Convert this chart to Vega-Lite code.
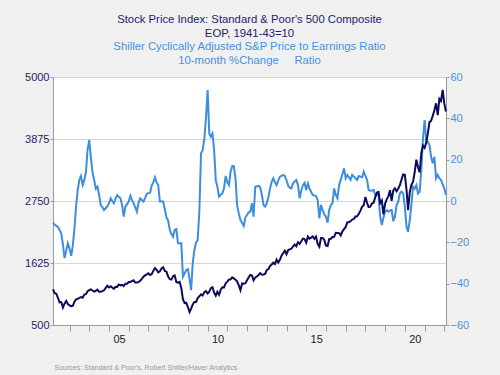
{
"$schema": "https://vega.github.io/schema/vega-lite/v6.json",
"width": 393, "height": 248,
"autosize": {"type": "none"},
"padding": {"left": 53, "top": 77, "right": 54, "bottom": 50},
"background": "#f0f0f0",
"config": {"view": {"fill": "white", "stroke": null}, "font": "Liberation Sans"},
"title": {
  "text": ["Stock Price Index: Standard & Poor's 500 Composite", "EOP, 1941-43=10"],
  "subtitle": ["Shiller Cyclically Adjusted S&P Price to Earnings Ratio", "10-month %Change\u00a0\u00a0\u00a0\u00a0\u00a0Ratio"],
  "anchor": "middle", "frame": "group",
  "fontSize": 11.3, "fontWeight": "normal", "color": "#22226e",
  "subtitleColor": "#4a90e2", "subtitleFontSize": 11.3, "subtitleFontWeight": "normal",
  "lineHeight": 14, "subtitleLineHeight": 14, "subtitlePadding": 1, "offset": 5
},
"data": {"values": [
{"d":"2002-03","sp":1147,"chg":-10.5},{"d":"2002-04","sp":1076,"chg":-11.5},{"d":"2002-05","sp":1067,"chg":-12},{"d":"2002-06","sp":990,"chg":-12.5},{"d":"2002-07","sp":912,"chg":-14},{"d":"2002-08","sp":916,"chg":-15.7},{"d":"2002-09","sp":815,"chg":-21},{"d":"2002-10","sp":886,"chg":-27.6},{"d":"2002-11","sp":936,"chg":-24},{"d":"2002-12","sp":880,"chg":-20.4},
{"d":"2003-01","sp":856,"chg":-23},{"d":"2003-02","sp":841,"chg":-26.5},{"d":"2003-03","sp":848,"chg":-22},{"d":"2003-04","sp":917,"chg":-13.7},{"d":"2003-05","sp":964,"chg":-3},{"d":"2003-06","sp":975,"chg":5},{"d":"2003-07","sp":990,"chg":10.2},{"d":"2003-08","sp":1008,"chg":12.1},{"d":"2003-09","sp":996,"chg":7.7},{"d":"2003-10","sp":1051,"chg":10},{"d":"2003-11","sp":1058,"chg":14},{"d":"2003-12","sp":1112,"chg":24.7},
{"d":"2004-01","sp":1131,"chg":29.5},{"d":"2004-02","sp":1145,"chg":21},{"d":"2004-03","sp":1126,"chg":14},{"d":"2004-04","sp":1107,"chg":10.2},{"d":"2004-05","sp":1121,"chg":6},{"d":"2004-06","sp":1141,"chg":7},{"d":"2004-07","sp":1102,"chg":3},{"d":"2004-08","sp":1104,"chg":-1.9},{"d":"2004-09","sp":1115,"chg":-3},{"d":"2004-10","sp":1130,"chg":-4.4},{"d":"2004-11","sp":1174,"chg":-3.5},{"d":"2004-12","sp":1212,"chg":-2.5},
{"d":"2005-01","sp":1181,"chg":-1.1},{"d":"2005-02","sp":1204,"chg":1.3},{"d":"2005-03","sp":1181,"chg":0},{"d":"2005-04","sp":1157,"chg":-1.1},{"d":"2005-05","sp":1192,"chg":1},{"d":"2005-06","sp":1191,"chg":2.9},{"d":"2005-07","sp":1234,"chg":2},{"d":"2005-08","sp":1220,"chg":1.3},{"d":"2005-09","sp":1229,"chg":-2},{"d":"2005-10","sp":1207,"chg":-7.6},{"d":"2005-11","sp":1249,"chg":-2.7},{"d":"2005-12","sp":1248,"chg":-1.5},
{"d":"2006-01","sp":1280,"chg":-0.3},{"d":"2006-02","sp":1281,"chg":2.5},{"d":"2006-03","sp":1295,"chg":0.5},{"d":"2006-04","sp":1311,"chg":-1.1},{"d":"2006-05","sp":1270,"chg":-3},{"d":"2006-06","sp":1270,"chg":-5.2},{"d":"2006-07","sp":1277,"chg":-1},{"d":"2006-08","sp":1304,"chg":1.3},{"d":"2006-09","sp":1336,"chg":0.5},{"d":"2006-10","sp":1378,"chg":-0.3},{"d":"2006-11","sp":1401,"chg":1.5},{"d":"2006-12","sp":1418,"chg":3.4},
{"d":"2007-01","sp":1438,"chg":3.8},{"d":"2007-02","sp":1407,"chg":4},{"d":"2007-03","sp":1421,"chg":7.3},{"d":"2007-04","sp":1482,"chg":9},{"d":"2007-05","sp":1531,"chg":11.5},{"d":"2007-06","sp":1503,"chg":9},{"d":"2007-07","sp":1455,"chg":7.7},{"d":"2007-08","sp":1474,"chg":-0.3},{"d":"2007-09","sp":1527,"chg":-0.3},{"d":"2007-10","sp":1549,"chg":-0.3},{"d":"2007-11","sp":1481,"chg":-4},{"d":"2007-12","sp":1468,"chg":-8},
{"d":"2008-01","sp":1379,"chg":-9.5},{"d":"2008-02","sp":1331,"chg":-14},{"d":"2008-03","sp":1323,"chg":-16},{"d":"2008-04","sp":1386,"chg":-17.3},{"d":"2008-05","sp":1400,"chg":-14},{"d":"2008-06","sp":1280,"chg":-13.6},{"d":"2008-07","sp":1267,"chg":-20.4},{"d":"2008-08","sp":1283,"chg":-20.6},{"d":"2008-09","sp":1166,"chg":-20.4},{"d":"2008-10","sp":969,"chg":-36.6},{"d":"2008-11","sp":896,"chg":-35},{"d":"2008-12","sp":903,"chg":-33.4},
{"d":"2009-01","sp":826,"chg":-33},{"d":"2009-02","sp":735,"chg":-38},{"d":"2009-03","sp":798,"chg":-43.1},{"d":"2009-04","sp":873,"chg":-30},{"d":"2009-05","sp":919,"chg":-23.7},{"d":"2009-06","sp":919,"chg":-20},{"d":"2009-07","sp":987,"chg":-18.9},{"d":"2009-08","sp":1021,"chg":-5},{"d":"2009-09","sp":1057,"chg":23.1},{"d":"2009-10","sp":1036,"chg":24.5},{"d":"2009-11","sp":1096,"chg":30},{"d":"2009-12","sp":1115,"chg":40},
{"d":"2010-01","sp":1074,"chg":53.7},{"d":"2010-02","sp":1104,"chg":32.6},{"d":"2010-03","sp":1169,"chg":31.1},{"d":"2010-04","sp":1187,"chg":32.6},{"d":"2010-05","sp":1089,"chg":25},{"d":"2010-06","sp":1031,"chg":10},{"d":"2010-07","sp":1102,"chg":6.9},{"d":"2010-08","sp":1049,"chg":2.1},{"d":"2010-09","sp":1141,"chg":3},{"d":"2010-10","sp":1183,"chg":3.7},{"d":"2010-11","sp":1181,"chg":6.1},{"d":"2010-12","sp":1258,"chg":12.1},
{"d":"2011-01","sp":1286,"chg":9},{"d":"2011-02","sp":1327,"chg":7.7},{"d":"2011-03","sp":1326,"chg":14},{"d":"2011-04","sp":1364,"chg":16.8},{"d":"2011-05","sp":1345,"chg":16.9},{"d":"2011-06","sp":1321,"chg":11},{"d":"2011-07","sp":1292,"chg":-2},{"d":"2011-08","sp":1219,"chg":-6},{"d":"2011-09","sp":1131,"chg":-9.2},{"d":"2011-10","sp":1253,"chg":-10.5},{"d":"2011-11","sp":1247,"chg":-12.1},{"d":"2011-12","sp":1258,"chg":-8},
{"d":"2012-01","sp":1312,"chg":-6.8},{"d":"2012-02","sp":1366,"chg":-5.5},{"d":"2012-03","sp":1408,"chg":-5.2},{"d":"2012-04","sp":1398,"chg":-1.1},{"d":"2012-05","sp":1310,"chg":-7.6},{"d":"2012-06","sp":1362,"chg":6.9},{"d":"2012-07","sp":1379,"chg":7.1},{"d":"2012-08","sp":1407,"chg":7.3},{"d":"2012-09","sp":1441,"chg":6.6},{"d":"2012-10","sp":1412,"chg":3},{"d":"2012-11","sp":1416,"chg":-1.9},{"d":"2012-12","sp":1426,"chg":-2.7},
{"d":"2013-01","sp":1498,"chg":-1},{"d":"2013-02","sp":1515,"chg":2.1},{"d":"2013-03","sp":1569,"chg":6},{"d":"2013-04","sp":1598,"chg":9.3},{"d":"2013-05","sp":1631,"chg":11},{"d":"2013-06","sp":1606,"chg":9},{"d":"2013-07","sp":1686,"chg":7.7},{"d":"2013-08","sp":1633,"chg":10},{"d":"2013-09","sp":1682,"chg":11.8},{"d":"2013-10","sp":1757,"chg":12.2},{"d":"2013-11","sp":1806,"chg":12.6},{"d":"2013-12","sp":1848,"chg":12.1},
{"d":"2014-01","sp":1783,"chg":10},{"d":"2014-02","sp":1859,"chg":7.3},{"d":"2014-03","sp":1872,"chg":6.5},{"d":"2014-04","sp":1884,"chg":6.1},{"d":"2014-05","sp":1924,"chg":8.5},{"d":"2014-06","sp":1960,"chg":9.5},{"d":"2014-07","sp":1931,"chg":10.2},{"d":"2014-08","sp":2003,"chg":7.7},{"d":"2014-09","sp":1972,"chg":1.3},{"d":"2014-10","sp":2018,"chg":5},{"d":"2014-11","sp":2068,"chg":7.7},{"d":"2014-12","sp":2059,"chg":8.8},
{"d":"2015-01","sp":1995,"chg":5.3},{"d":"2015-02","sp":2105,"chg":8.5},{"d":"2015-03","sp":2068,"chg":6.1},{"d":"2015-04","sp":2086,"chg":4.5},{"d":"2015-05","sp":2107,"chg":2.9},{"d":"2015-06","sp":2063,"chg":2.6},{"d":"2015-07","sp":2104,"chg":2.4},{"d":"2015-08","sp":1972,"chg":0.5},{"d":"2015-09","sp":1920,"chg":-8.4},{"d":"2015-10","sp":2079,"chg":-1.9},{"d":"2015-11","sp":2080,"chg":-4.4},{"d":"2015-12","sp":2044,"chg":-6.5},
{"d":"2016-01","sp":1940,"chg":-7.6},{"d":"2016-02","sp":1932,"chg":-10.5},{"d":"2016-03","sp":2060,"chg":-4.4},{"d":"2016-04","sp":2065,"chg":-2},{"d":"2016-05","sp":2097,"chg":-1.1},{"d":"2016-06","sp":2099,"chg":6.1},{"d":"2016-07","sp":2174,"chg":3},{"d":"2016-08","sp":2171,"chg":1.3},{"d":"2016-09","sp":2168,"chg":7.7},{"d":"2016-10","sp":2126,"chg":10.2},{"d":"2016-11","sp":2199,"chg":13},{"d":"2016-12","sp":2239,"chg":15.8},
{"d":"2017-01","sp":2279,"chg":11},{"d":"2017-02","sp":2364,"chg":12.6},{"d":"2017-03","sp":2363,"chg":11.5},{"d":"2017-04","sp":2384,"chg":10.2},{"d":"2017-05","sp":2412,"chg":12.6},{"d":"2017-06","sp":2423,"chg":11.8},{"d":"2017-07","sp":2470,"chg":11},{"d":"2017-08","sp":2472,"chg":10.2},{"d":"2017-09","sp":2519,"chg":12.1},{"d":"2017-10","sp":2575,"chg":11.8},{"d":"2017-11","sp":2648,"chg":11.5},{"d":"2017-12","sp":2674,"chg":14.2},
{"d":"2018-01","sp":2824,"chg":12},{"d":"2018-02","sp":2714,"chg":10.2},{"d":"2018-03","sp":2641,"chg":5.3},{"d":"2018-04","sp":2648,"chg":5},{"d":"2018-05","sp":2705,"chg":5.1},{"d":"2018-06","sp":2718,"chg":5.3},{"d":"2018-07","sp":2816,"chg":2.9},{"d":"2018-08","sp":2902,"chg":3},{"d":"2018-09","sp":2914,"chg":2.9},{"d":"2018-10","sp":2712,"chg":-7.6},{"d":"2018-11","sp":2760,"chg":-11.6},{"d":"2018-12","sp":2507,"chg":-8},
{"d":"2019-01","sp":2704,"chg":-5.2},{"d":"2019-02","sp":2784,"chg":-4.4},{"d":"2019-03","sp":2834,"chg":-5.2},{"d":"2019-04","sp":2946,"chg":-4.6},{"d":"2019-05","sp":2752,"chg":-4.4},{"d":"2019-06","sp":2942,"chg":-9.8},{"d":"2019-07","sp":2980,"chg":-7.6},{"d":"2019-08","sp":2926,"chg":-2},{"d":"2019-09","sp":2977,"chg":-0.3},{"d":"2019-10","sp":3038,"chg":3.7},{"d":"2019-11","sp":3141,"chg":4.5},{"d":"2019-12","sp":3231,"chg":3.7},
{"d":"2020-01","sp":3226,"chg":-2.7},{"d":"2020-02","sp":2954,"chg":-12.4},{"d":"2020-03","sp":2585,"chg":-14.9},{"d":"2020-04","sp":2912,"chg":-9.2},{"d":"2020-05","sp":3044,"chg":-1.9},{"d":"2020-06","sp":3100,"chg":6.9},{"d":"2020-07","sp":3271,"chg":6},{"d":"2020-08","sp":3500,"chg":7.7},{"d":"2020-09","sp":3363,"chg":3.7},{"d":"2020-10","sp":3270,"chg":4.5},{"d":"2020-11","sp":3622,"chg":15},{"d":"2020-12","sp":3756,"chg":30},
{"d":"2021-01","sp":3714,"chg":39.2},{"d":"2021-02","sp":3811,"chg":28.7},{"d":"2021-03","sp":3973,"chg":28.7},{"d":"2021-04","sp":4181,"chg":27.1},{"d":"2021-05","sp":4204,"chg":21.4},{"d":"2021-06","sp":4298,"chg":18.2},{"d":"2021-07","sp":4395,"chg":21.4},{"d":"2021-08","sp":4523,"chg":11},{"d":"2021-09","sp":4308,"chg":12.6},{"d":"2021-10","sp":4605,"chg":11},{"d":"2021-11","sp":4567,"chg":10.2},{"d":"2021-12","sp":4766,"chg":8},
{"d":"2022-01","sp":4516,"chg":6.1},{"d":"2022-02","sp":4374,"chg":2.9}
]},
"encoding": {
  "x": {
    "field": "d", "type": "temporal",
    "scale": {"type": "utc", "domain": [{"year": 2002, "month": 3, "date": 1, "utc": true}, {"year": 2022, "month": 2, "date": 1, "utc": true}]},
    "axis": {
      "values": [{"year":2003,"utc":true},{"year":2004,"utc":true},{"year":2005,"utc":true},{"year":2006,"utc":true},{"year":2007,"utc":true},{"year":2008,"utc":true},{"year":2009,"utc":true},{"year":2010,"utc":true},{"year":2011,"utc":true},{"year":2012,"utc":true},{"year":2013,"utc":true},{"year":2014,"utc":true},{"year":2015,"utc":true},{"year":2016,"utc":true},{"year":2017,"utc":true},{"year":2018,"utc":true},{"year":2019,"utc":true},{"year":2020,"utc":true},{"year":2021,"utc":true},{"year":2022,"utc":true}],
      "labelExpr": "utcyear(datum.value) % 5 == 0 ? utcFormat(datum.value, '%y') : ''",
      "labelOffset": 10, "labelOverlap": false, "labelFlush": false,
      "tickSize": 6, "labelPadding": 2, "tickColor": "#9a9a9a", "domainColor": "#9a9a9a",
      "labelColor": "#222222", "labelFontSize": 11, "grid": false,
      "title": "Sources:  Standard & Poor's, Robert Shiller/Haver Analytics",
      "titleFontSize": 7, "titleColor": "#999999", "titleFontWeight": "normal",
      "titleAnchor": "start", "titleAlign": "left", "titleBaseline": "middle", "titleX": 1, "titleY": 42
    }
  }
},
"layer": [
  {
    "mark": {"type": "line", "color": "#3d8de0", "strokeWidth": 2},
    "encoding": {
      "y": {"field": "chg", "type": "quantitative",
        "scale": {"domain": [-60, 60]},
        "axis": {"orient": "right", "values": [-60,-40,-20,0,20,40,60], "grid": false, "title": null,
          "labelColor": "#4a90e2", "labelFontSize": 11, "tickSize": 3, "labelPadding": 1,
          "tickColor": "#9a9a9a", "domainColor": "#9a9a9a"}}
    }
  },
  {
    "mark": {"type": "line", "color": "#0b0b5e", "strokeWidth": 2},
    "encoding": {
      "y": {"field": "sp", "type": "quantitative",
        "scale": {"domain": [500, 5000]},
        "axis": {"orient": "left", "values": [500,1625,2750,3875,5000], "format": "d", "grid": true, "gridColor": "#d6d6d6", "title": null,
          "labelColor": "#22226e", "labelFontSize": 11, "tickSize": 3, "labelPadding": 1,
          "tickColor": "#9a9a9a", "domainColor": "#9a9a9a"}}
    }
  }
],
"resolve": {"scale": {"y": "independent"}}
}
